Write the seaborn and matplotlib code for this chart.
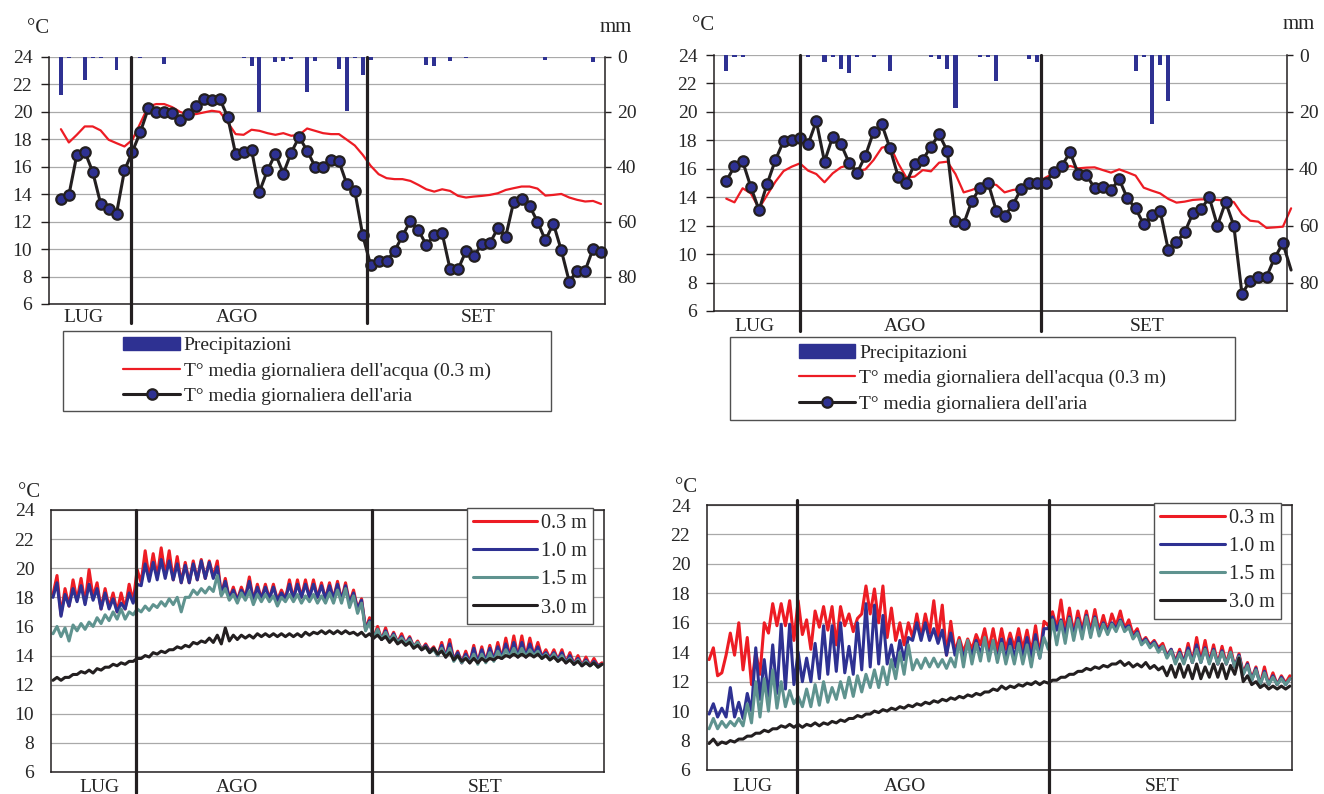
import numpy as np
import matplotlib
matplotlib.use("Agg")
import matplotlib.pyplot as plt
import seaborn as sns
from matplotlib.lines import Line2D
from matplotlib.patches import Patch, Rectangle

#
#  Daily values, top panels (one value per day, day 1 = first day shown)
#

# left site
air_left = [13.68, 13.93, 16.85, 17.11, 15.63, 13.32, 12.93, 12.59, 15.73, 17.11,
            18.53, 20.25, 20.0, 20.0, 19.9, 19.43, 19.84, 20.45, 20.96, 20.89,
            20.96, 19.62, 16.92, 17.11, 17.24, 14.19, 15.73, 16.94, 15.51, 17.04,
            18.18, 17.16, 16.02, 16.02, 16.46, 16.41, 14.73, 14.24, 11.0, 8.82,
            9.13, 9.13, 9.86, 10.96, 12.05, 11.4, 10.3, 11.0, 11.15, 8.53,
            8.53, 9.86, 9.5, 10.35, 10.42, 11.52, 10.91, 13.44, 13.66, 13.15,
            12.0, 10.64, 11.86, 9.91, 7.63, 8.43, 8.43, 10.03, 9.79]
water_left = [18.74, 17.77, 18.33, 18.94, 18.94, 18.65, 17.97, 17.72, 17.48, 17.97,
              19.18, 20.4, 20.57, 20.57, 20.35, 20.0, 19.8, 19.84, 19.96, 20.08,
              20.0, 19.23, 18.38, 18.33, 18.7, 18.62, 18.45, 18.33, 18.45, 18.26,
              18.33, 18.79, 18.62, 18.45, 18.38, 18.38, 17.97, 17.55, 16.87, 16.07,
              15.46, 15.17, 15.1, 15.1, 14.97, 14.68, 14.36, 14.19, 14.36, 14.24,
              13.88, 13.76, 13.83, 13.88, 13.95, 14.07, 14.31, 14.44, 14.56, 14.56,
              14.41, 13.9, 13.95, 14.02, 13.76, 13.59, 13.47, 13.51, 13.29]
rain_left = [14.0, 0.5, 0, 8.3, 0.5, 0.5, 0, 4.6, 0, 0,
             0.5, 0, 0, 2.4, 0, 0, 0, 0, 0, 0,
             0, 0, 0, 0.5, 3.4, 20.0, 0, 1.7, 1.3, 0.6,
             0, 12.6, 1.3, 0, 0, 4.3, 19.5, 0.5, 6.7, 1.0,
             0, 0, 0, 0, 0, 0, 3.0, 3.4, 0, 1.3,
             0, 0.5, 0, 0, 0, 0, 0, 0, 0, 0,
             0, 1.0, 0, 0, 0, 0, 0, 1.7, 0]

# right site (last day runs just past the axis)
air_right = [15.14, 16.17, 16.52, 14.72, 13.1, 14.95, 16.62, 17.95, 18.02, 18.16,
             17.74, 19.34, 16.5, 18.26, 17.74, 16.43, 15.73, 16.92, 18.61, 19.13,
             17.44, 15.45, 15.02, 16.34, 16.62, 17.56, 18.42, 17.25, 12.31, 12.12,
             13.74, 14.65, 14.98, 13.03, 12.7, 13.45, 14.56, 15.02, 15.02, 15.02,
             15.77, 16.22, 17.16, 15.63, 15.56, 14.63, 14.74, 14.51, 15.26, 13.92,
             13.22, 12.09, 12.73, 13.06, 10.29, 10.85, 11.53, 12.87, 13.15, 13.99,
             12.0, 13.66, 12.0, 7.2, 8.13, 8.37, 8.41, 9.75, 10.76, 8.88]
water_right = [13.9, 13.64, 14.63, 14.27, 13.22, 14.16, 15.09, 15.84, 16.15, 16.38,
               15.87, 15.63, 15.05, 15.68, 16.1, 16.27, 15.84, 15.96, 16.62, 17.48,
               17.63, 16.38, 15.38, 15.45, 15.91, 15.82, 16.43, 16.5, 15.63, 14.34,
               14.51, 14.74, 14.98, 14.86, 14.34, 14.51, 14.58, 15.02, 15.02, 15.38,
               15.68, 15.96, 16.2, 16.03, 16.08, 16.1, 15.91, 15.73, 15.96, 15.75,
               15.52, 14.67, 14.46, 14.27, 13.88, 13.62, 13.69, 13.81, 13.85, 13.85,
               13.81, 13.76, 13.66, 12.82, 12.35, 12.28, 11.84, 11.88, 11.93, 13.22]
rain_right = [5.5, 0.8, 0.8, 0, 0, 0, 0, 0, 0, 0,
              0.8, 0, 2.3, 0.8, 5.0, 6.2, 0.6, 0, 0.6, 0,
              5.8, 0, 0, 0, 0, 0.6, 1.4, 5.0, 18.8, 0,
              0, 0.6, 0.6, 9.0, 0, 0, 0, 1.4, 2.3, 0,
              0, 0, 0, 0, 0, 0, 0, 0, 0, 0,
              5.5, 0.6, 24.4, 3.4, 16.0, 0, 0, 0, 0, 0,
              0, 0, 0, 0, 0, 0, 0, 0, 0, 0]

#
#  Bottom panels: daily minimum (night) and maximum (afternoon) read
#  from the hourly traces at the four depths, days 0..68
#

bl_03_min = [18.2, 16.8, 17.4, 17.8, 17.6, 18.0, 17.2, 17.3, 17.0, 17.2,
             17.7, 19.0, 19.3, 19.4, 19.5, 19.2, 19.0, 19.0, 19.2, 19.3,
             19.4, 18.2, 17.9, 17.8, 18.0, 17.8, 17.9, 17.9, 17.8, 17.9,
             17.9, 18.0, 18.0, 18.0, 17.9, 17.9, 17.8, 17.6, 17.2, 15.8,
             15.2, 15.1, 15.0, 14.9, 14.8, 14.6, 14.4, 14.3, 14.0, 13.9,
             13.7, 13.5, 13.5, 13.5, 13.6, 13.7, 13.8, 13.9, 13.9, 13.9,
             14.0, 13.9, 13.8, 13.7, 13.5, 13.4, 13.3, 13.3, 13.3]
bl_03_max = [19.5, 18.6, 19.2, 19.3, 19.9, 19.0, 18.6, 18.3, 18.3, 18.9,
             19.9, 21.2, 21.0, 21.4, 21.2, 20.8, 20.4, 20.5, 20.6, 20.5,
             20.5, 19.3, 18.7, 18.7, 19.4, 18.9, 18.9, 18.9, 18.5, 19.2,
             19.2, 19.2, 19.2, 19.0, 19.0, 19.1, 19.0, 18.5, 17.9, 16.6,
             16.0, 15.9, 15.6, 15.5, 15.3, 15.0, 14.8, 14.6, 14.9, 15.1,
             14.3, 14.3, 14.7, 14.6, 14.7, 14.9, 15.2, 15.35, 15.35, 15.2,
             14.9, 14.4, 14.4, 14.4, 14.2, 14.0, 13.9, 13.8, 13.5]
bl_10_min = [18.0, 16.7, 17.4, 17.7, 17.5, 17.8, 17.2, 17.2, 17.0, 17.2,
             17.6, 18.8, 19.1, 19.2, 19.3, 19.2, 19.0, 19.0, 19.2, 19.3,
             19.3, 18.2, 17.9, 17.8, 18.0, 17.8, 17.9, 17.9, 17.8, 17.9,
             17.9, 18.0, 18.0, 18.0, 17.9, 17.9, 17.8, 17.6, 17.2, 15.8,
             15.2, 15.1, 15.0, 14.9, 14.8, 14.6, 14.4, 14.3, 14.0, 13.9,
             13.7, 13.5, 13.5, 13.5, 13.6, 13.7, 13.8, 13.9, 13.9, 13.9,
             14.0, 13.9, 13.8, 13.7, 13.5, 13.4, 13.3, 13.3, 13.3]
bl_10_max = [19.0, 18.2, 18.6, 18.8, 18.9, 18.6, 18.3, 17.9, 17.6, 18.3,
             18.9, 20.3, 20.4, 20.6, 20.5, 20.3, 20.2, 20.3, 20.5, 20.4,
             20.1, 19.1, 18.5, 18.5, 19.1, 18.7, 18.7, 18.7, 18.3, 18.9,
             18.9, 18.9, 18.9, 18.8, 18.8, 18.9, 18.8, 18.3, 17.8, 16.4,
             15.8, 15.7, 15.5, 15.3, 15.2, 14.9, 14.7, 14.5, 14.7, 14.8,
             14.2, 14.1, 14.5, 14.4, 14.5, 14.6, 14.8, 14.9, 14.9, 14.8,
             14.6, 14.2, 14.2, 14.2, 14.0, 13.8, 13.7, 13.6, 13.4]
bl_15_min = [15.5, 15.3, 15.0, 15.7, 15.8, 16.0, 16.2, 16.4, 16.5, 16.5,
             16.8, 17.0, 17.1, 17.3, 17.4, 17.5, 17.0, 18.0, 18.2, 18.3,
             18.4, 18.1, 17.8, 17.6, 17.8, 17.5, 17.7, 17.7, 17.4, 17.7,
             17.7, 17.6, 17.7, 17.6, 17.6, 17.6, 17.6, 17.3, 16.9, 15.7,
             15.2, 15.1, 15.0, 14.9, 14.8, 14.6, 14.4, 14.2, 14.0, 13.9,
             13.6, 13.5, 13.5, 13.4, 13.5, 13.6, 13.8, 13.9, 13.9, 13.9,
             14.0, 13.8, 13.7, 13.6, 13.5, 13.4, 13.3, 13.3, 13.2]
bl_15_max = [16.0, 15.9, 16.1, 16.2, 16.3, 16.6, 16.8, 17.0, 17.2, 17.0,
             17.2, 17.4, 17.5, 17.7, 17.9, 18.0, 18.0, 18.5, 18.6, 18.7,
             19.5, 18.6, 18.2, 18.3, 18.4, 18.2, 18.2, 18.1, 18.0, 18.2,
             18.2, 18.1, 18.2, 18.1, 18.3, 18.5, 18.6, 18.1, 17.6, 16.3,
             15.8, 15.6, 15.4, 15.2, 15.1, 14.9, 14.6, 14.4, 14.5, 14.5,
             14.0, 13.9, 14.1, 14.1, 14.2, 14.3, 14.4, 14.5, 14.5, 14.4,
             14.3, 14.1, 14.1, 14.0, 13.8, 13.7, 13.6, 13.5, 13.4]
bl_30_min = [12.3, 12.3, 12.5, 12.7, 12.8, 12.8, 13.0, 13.2, 13.3, 13.4,
             13.6, 13.8, 13.9, 14.1, 14.2, 14.4, 14.5, 14.6, 14.8, 14.9,
             14.9, 14.8, 15.0, 15.1, 15.2, 15.2, 15.3, 15.3, 15.3, 15.3,
             15.3, 15.3, 15.4, 15.5, 15.5, 15.5, 15.5, 15.5, 15.4, 15.3,
             15.2, 15.1, 14.9, 14.8, 14.7, 14.5, 14.4, 14.2, 14.1, 13.9,
             13.7, 13.6, 13.5, 13.5, 13.6, 13.7, 13.8, 13.9, 13.9, 13.9,
             13.9, 13.8, 13.7, 13.6, 13.5, 13.4, 13.3, 13.3, 13.2]
bl_30_max = [12.5, 12.5, 12.7, 12.9, 13.0, 13.1, 13.2, 13.4, 13.5, 13.6,
             13.8, 14.0, 14.2, 14.3, 14.4, 14.6, 14.7, 14.9, 15.0, 15.2,
             15.4, 15.9, 15.4, 15.4, 15.4, 15.5, 15.5, 15.5, 15.5, 15.5,
             15.5, 15.6, 15.6, 15.7, 15.7, 15.7, 15.7, 15.6, 15.6, 15.5,
             15.4, 15.3, 15.2, 15.0, 14.9, 14.7, 14.6, 14.5, 14.3, 14.2,
             14.0, 13.8, 13.8, 13.8, 13.8, 13.9, 14.0, 14.1, 14.1, 14.1,
             14.1, 14.0, 13.9, 13.8, 13.7, 13.6, 13.5, 13.5, 13.4]

br_03_min = [13.5, 12.4, 13.8, 13.8, 12.8, 11.8, 12.5, 15.3, 15.8, 15.8,
             14.8, 15.2, 14.2, 15.7, 15.5, 14.5, 15.8, 15.4, 16.6, 16.6,
             16.0, 15.0, 14.8, 14.5, 15.0, 15.0, 15.3, 15.0, 13.8, 14.0,
             14.0, 14.2, 14.5, 14.2, 14.1, 14.2, 14.3, 14.2, 14.0, 13.8,
             15.8, 15.6, 15.4, 15.3, 15.5, 15.4, 15.4, 15.4, 15.8, 15.6,
             15.2, 14.7, 14.5, 14.3, 13.8, 13.4, 13.3, 13.3, 13.4, 13.3,
             13.2, 13.2, 13.0, 12.6, 12.2, 11.8, 11.8, 11.8, 11.9]
br_03_max = [14.3, 12.6, 15.3, 16.0, 15.0, 14.0, 16.0, 17.3, 17.3, 17.5,
             17.5, 16.2, 16.8, 17.1, 17.1, 17.1, 16.6, 16.3, 18.5, 18.3,
             18.5, 17.0, 16.0, 16.0, 16.6, 16.6, 17.5, 17.2, 16.1, 15.0,
             14.9, 15.2, 15.6, 15.6, 15.6, 15.3, 15.6, 15.5, 15.8, 16.1,
             16.75, 17.55, 17.0, 16.8, 16.8, 16.9, 16.5, 16.6, 16.8, 16.2,
             15.6, 15.0, 14.8, 14.6, 14.2, 14.2, 14.6, 15.0, 14.8, 14.5,
             14.4, 14.3, 13.9, 13.3, 13.0, 13.0, 12.6, 12.4, 12.4]
br_10_min = [9.8, 9.6, 9.6, 9.6, 9.5, 10.0, 10.8, 11.0, 11.2, 11.5,
             11.8, 12.0, 12.0, 12.2, 12.5, 12.7, 12.6, 12.5, 12.8, 13.0,
             13.2, 13.2, 13.0, 13.5, 14.8, 14.8, 14.8, 14.6, 13.8, 13.8,
             13.6, 13.8, 13.9, 13.7, 13.5, 13.5, 13.6, 13.6, 13.6, 13.6,
             15.6, 15.5, 15.2, 15.2, 15.3, 15.2, 15.3, 15.4, 15.6, 15.6,
             15.0, 14.6, 14.4, 14.2, 13.7, 13.3, 13.3, 13.3, 13.3, 13.3,
             13.2, 13.2, 13.0, 12.5, 12.1, 11.8, 11.8, 11.8, 11.8]
br_10_max = [10.5, 10.2, 11.6, 10.6, 11.2, 14.3, 13.5, 14.5, 15.9, 15.9,
             14.0, 13.6, 14.6, 15.8, 15.8, 16.0, 14.4, 16.0, 17.3, 17.2,
             16.5, 14.5, 14.8, 15.0, 16.0, 16.0, 15.6, 15.5, 15.3, 14.8,
             14.6, 14.8, 14.9, 14.8, 14.9, 14.9, 15.0, 15.0, 15.2, 15.6,
             16.4, 16.2, 16.4, 16.3, 16.5, 16.4, 16.0, 16.0, 16.2, 15.8,
             15.4, 14.9, 14.7, 14.4, 14.2, 14.0, 14.3, 14.5, 14.3, 14.2,
             14.1, 14.0, 13.8, 13.2, 12.9, 12.7, 12.4, 12.3, 12.2]
br_15_min = [8.8, 8.8, 8.9, 9.0, 9.0, 9.2, 9.6, 10.0, 10.2, 10.3,
             10.5, 10.3, 10.3, 10.4, 10.6, 10.8, 10.9, 11.0, 11.3, 11.6,
             11.6, 11.8, 12.2, 12.5, 12.8, 12.9, 13.0, 13.0, 12.9, 13.0,
             13.0, 13.2, 13.4, 13.4, 13.3, 13.2, 13.2, 13.2, 13.0, 13.6,
             14.2, 14.5, 14.6, 14.8, 14.9, 15.0, 15.1, 15.2, 15.4, 15.4,
             14.9, 14.5, 14.3, 14.0, 13.6, 13.2, 13.2, 13.3, 13.3, 13.2,
             13.2, 13.2, 13.0, 12.5, 12.1, 11.8, 11.8, 11.8, 11.8]
br_15_max = [9.5, 9.3, 9.3, 9.5, 10.5, 12.0, 12.2, 12.8, 12.0, 11.4,
             11.0, 11.5, 11.8, 12.0, 11.6, 12.0, 12.3, 12.4, 12.5, 12.8,
             13.0, 13.5, 14.0, 14.5, 13.5, 13.6, 13.6, 13.5, 13.6, 14.8,
             14.8, 14.6, 15.0, 14.8, 14.6, 14.4, 14.6, 14.5, 14.7, 15.0,
             16.2, 16.1, 16.3, 16.2, 16.4, 16.3, 15.9, 15.9, 16.1, 15.7,
             15.3, 14.8, 14.6, 14.4, 14.1, 13.9, 14.1, 14.2, 14.2, 14.1,
             14.0, 14.0, 13.7, 13.1, 12.8, 12.6, 12.3, 12.2, 12.2]
br_30_min = [7.8, 7.7, 7.8, 7.9, 8.1, 8.3, 8.5, 8.6, 8.8, 8.9,
             8.9, 8.9, 9.0, 9.0, 9.1, 9.2, 9.3, 9.5, 9.6, 9.8,
             9.9, 10.0, 10.1, 10.2, 10.3, 10.4, 10.5, 10.6, 10.7, 10.8,
             10.9, 11.0, 11.1, 11.3, 11.4, 11.5, 11.6, 11.7, 11.8, 11.8,
             11.9, 12.1, 12.3, 12.5, 12.7, 12.8, 12.9, 13.0, 13.2, 13.1,
             13.0, 13.0, 12.9, 12.8, 12.4, 12.3, 12.3, 12.2, 12.2, 12.3,
             12.3, 12.2, 12.5, 12.0, 11.8, 11.6, 11.5, 11.5, 11.5]
br_30_max = [8.1, 7.9, 8.0, 8.1, 8.3, 8.5, 8.7, 8.8, 9.0, 9.1,
             9.1, 9.1, 9.2, 9.2, 9.3, 9.4, 9.5, 9.7, 9.8, 10.0,
             10.1, 10.2, 10.3, 10.4, 10.5, 10.6, 10.7, 10.8, 10.9, 11.0,
             11.1, 11.2, 11.3, 11.5, 11.7, 11.7, 11.8, 11.9, 12.0, 12.0,
             12.1, 12.3, 12.5, 12.7, 12.9, 13.0, 13.1, 13.2, 13.4, 13.3,
             13.2, 13.3, 13.1, 13.0, 13.1, 13.2, 13.1, 13.2, 13.0, 13.2,
             13.2, 13.1, 13.6, 12.4, 12.0, 11.8, 11.7, 11.7, 11.7]

months = ["LUG", "AGO", "SET"]
depths = ["0.3 m", "1.0 m", "1.5 m", "3.0 m"]
legend_top = ["Precipitazioni",
              "T\u00b0 media giornaliera dell'acqua (0.3 m)",
              "T\u00b0 media giornaliera dell'aria"]

#
#  Style
#

sns.set_style("white")
plt.rcParams["font.family"] = ["Liberation Serif", "DejaVu Serif"]
plt.rcParams["font.size"] = 14

RED = "#ed1c24"
NAVY = "#2e3192"
TEAL = "#5f938f"
BLACK = "#231f20"
GRID = "#a9a9a9"
W, H = 1324, 794

fig = plt.figure(figsize=(W / 100, H / 100), dpi=100)


def axes_px(left, top, right, bottom):
    return fig.add_axes([left / W, 1 - bottom / H, (right - left) / W, (bottom - top) / H])


def text_px(x, y, s, size=15):
    fig.text(x / W, 1 - y / H, s, ha="center", va="baseline", fontsize=size)


def temp_axes(ax, xmax, full_box):
    ax.set_xlim(0, xmax)
    ax.set_ylim(6, 24)
    ax.set_yticks(range(6, 25, 2))
    ax.set_xticks(range(0, int(xmax) + 1, 10))
    ax.tick_params(axis="x", direction="in", length=5, width=1, color=BLACK, labelbottom=False)
    ax.tick_params(axis="y", direction="out", length=6, width=1, pad=6, color=BLACK, labelsize=14)
    ax.grid(axis="y", color=GRID, lw=0.9)
    ax.set_axisbelow(True)
    for sp in ax.spines.values():
        sp.set_color(BLACK)
        sp.set_linewidth(1.1)
    if not full_box:
        ax.spines["top"].set_visible(False)
        ax.spines["right"].set_visible(False)
    ax.set_xlabel("")
    ax.set_ylabel("")


def month_marks(ax, lines, label_x, label_y, bottom, top=1.0):
    for xv in lines:
        ax.plot([xv, xv], [bottom, top], transform=ax.get_xaxis_transform(),
                color=BLACK, lw=2.3, clip_on=False, zorder=6)
    for name, xv in zip(months, label_x):
        ax.text(xv, label_y, name, transform=ax.get_xaxis_transform(),
                ha="center", va="baseline", fontsize=14)


def top_panel(box, air, water, rain, n_marked, lines, label_x, label_y, line_bottom,
              frame, degc, mm):
    ax = axes_px(*box)
    days = np.arange(1, len(air) + 1)
    x = days + 0.5
    sns.lineplot(x=x, y=water, color=RED, lw=1.6, ax=ax, clip_on=False, zorder=3)
    sns.lineplot(x=x, y=air, color=BLACK, lw=2.2, marker="o", markersize=7.5,
                 markerfacecolor=NAVY, mec=BLACK, mew=1.6,
                 markevery=list(range(n_marked)), ax=ax, clip_on=False, zorder=4)
    temp_axes(ax, 70, False)

    ax2 = ax.twinx()
    sns.barplot(x=x, y=rain, native_scale=True, width=0.5, color=NAVY,
                saturation=1, errorbar=None, linewidth=0, ax=ax2)
    ax2.set_ylim(90, 0)
    ax2.set_yticks(range(0, 81, 20))
    ax2.tick_params(axis="y", direction="out", length=4.5, width=1, pad=4,
                    color=BLACK, labelsize=14)
    for side in ["top", "left", "bottom"]:
        ax2.spines[side].set_visible(False)
    ax2.spines["right"].set_color(BLACK)
    ax2.spines["right"].set_linewidth(1.1)
    ax2.set_xlabel("")
    ax2.set_ylabel("")
    ax.set_xlim(0, 70)
    month_marks(ax2, lines, label_x, label_y, line_bottom)

    # legend in a wide frame below the plot
    handles = [Patch(facecolor=NAVY, edgecolor=NAVY),
               Line2D([], [], color=RED, lw=1.6),
               Line2D([], [], color=BLACK, lw=2.2, marker="o", markersize=7.5,
                      markerfacecolor=NAVY, markeredgecolor=BLACK, markeredgewidth=1.6)]
    x0, y0, x1, y1 = frame
    fig.legend(handles, legend_top, loc="center",
               bbox_to_anchor=((x0 + x1) / 2 / W, 1 - (y0 + y1) / 2 / H),
               frameon=False, fontsize=14, handlelength=2.9, handletextpad=0.2,
               labelspacing=0.4, borderpad=0)
    fig.add_artist(Rectangle((x0 / W, 1 - y1 / H), (x1 - x0) / W, (y1 - y0) / H,
                             transform=fig.transFigure, fill=False,
                             edgecolor="#505050", lw=1.0))
    text_px(degc[0], degc[1], "\u00b0C")
    text_px(mm[0], mm[1], "mm")


def bottom_panel(box, series, lines, label_x, label_y, line_bottom, line_top, degc):
    ax = axes_px(*box)
    days = np.arange(len(series[0][1]))
    x = np.column_stack([days + 0.25, days + 0.75]).ravel()
    for name, low, high, color in series:
        y = np.column_stack([low, high]).ravel()
        sns.lineplot(x=x, y=y, color=color, lw=2.2, label=name, ax=ax, estimator=None)
    temp_axes(ax, 69, True)
    month_marks(ax, lines, label_x, label_y, line_bottom, line_top)
    leg = ax.legend(loc="upper right", bbox_to_anchor=(1 - 11 / 560, 1.008),
                    frameon=True, fancybox=False, framealpha=1, edgecolor="#505050",
                    borderaxespad=0, fontsize=14.5, handlelength=3.2,
                    handletextpad=0.2, labelspacing=0.45, borderpad=0.3)
    leg.get_frame().set_linewidth(1.0)
    text_px(degc[0], degc[1], "\u00b0C")


top_panel((49, 57, 605, 304), air_left, water_left, rain_left, 69,
          lines=[10.34, 40.0], label_x=[4.4, 23.7, 54.0], label_y=-0.073,
          line_bottom=-0.077, frame=(63, 331, 551, 411),
          degc=(38, 33), mm=(616, 32))

top_panel((714, 55, 1287, 311), air_right, water_right, rain_right, 69,
          lines=[10.5, 39.9], label_x=[4.9, 23.3, 52.9], label_y=-0.078,
          line_bottom=-0.078, frame=(730, 337, 1235, 420),
          degc=(703, 30), mm=(1299, 29))

bottom_panel((51, 510, 604, 772),
             [(depths[0], bl_03_min, bl_03_max, RED),
              (depths[1], bl_10_min, bl_10_max, NAVY),
              (depths[2], bl_15_min, bl_15_max, TEAL),
              (depths[3], bl_30_min, bl_30_max, BLACK)],
             lines=[10.6, 40.06], label_x=[6.1, 23.2, 54.2], label_y=-0.076,
             line_bottom=-0.08, line_top=1.0, degc=(29, 497))

bottom_panel((707, 505, 1292, 770),
             [(depths[0], br_03_min, br_03_max, RED),
              (depths[1], br_10_min, br_10_max, NAVY),
              (depths[2], br_15_min, br_15_max, TEAL),
              (depths[3], br_30_min, br_30_max, BLACK)],
             lines=[10.6, 40.3], label_x=[5.4, 23.4, 53.7], label_y=-0.079,
             line_bottom=-0.087, line_top=1.02, degc=(686, 492))

fig.savefig("out.png", dpi=100)
